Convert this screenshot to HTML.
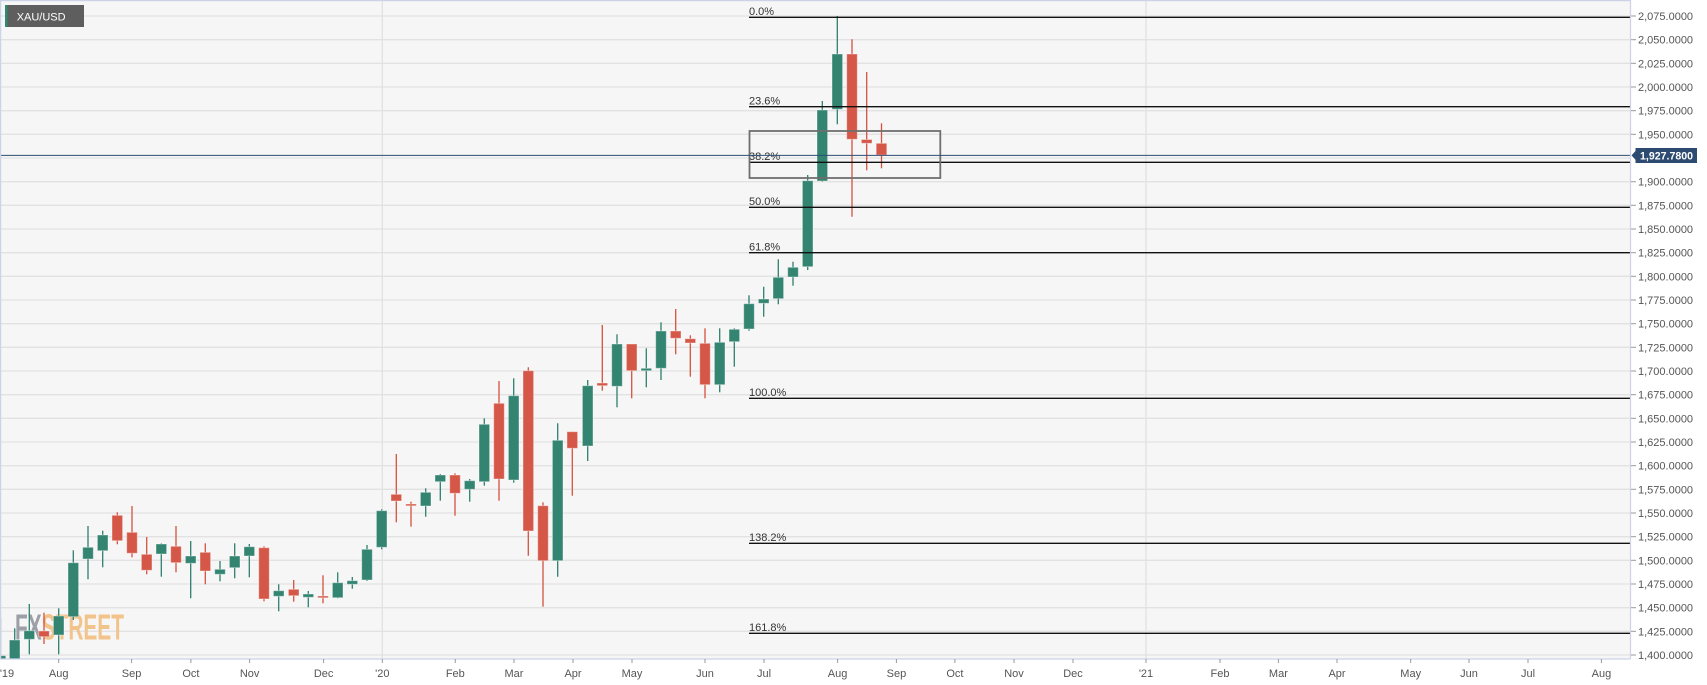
<!DOCTYPE html>
<html><head><meta charset="utf-8"><style>
html,body{margin:0;padding:0;background:#fff;}
svg{display:block;font-family:"Liberation Sans",Arial,sans-serif;}
</style></head><body>
<svg width="1707" height="685" viewBox="0 0 1707 685" xmlns="http://www.w3.org/2000/svg">
<defs><clipPath id="pa"><rect x="0" y="0" width="1630" height="659"/></clipPath></defs>
<rect x="0" y="0" width="1707" height="685" fill="#ffffff"/>
<rect x="0" y="0" width="1630" height="659" fill="#f6f6f6"/>
<!-- horizontal grid -->
<g stroke="#e2e2e2" stroke-width="1.3">
<line x1="0" x2="1630" y1="16" y2="16"/><line x1="0" x2="1630" y1="39.7" y2="39.7"/><line x1="0" x2="1630" y1="63.3" y2="63.3"/><line x1="0" x2="1630" y1="87" y2="87"/><line x1="0" x2="1630" y1="110.7" y2="110.7"/><line x1="0" x2="1630" y1="134.3" y2="134.3"/><line x1="0" x2="1630" y1="158" y2="158"/><line x1="0" x2="1630" y1="181.7" y2="181.7"/><line x1="0" x2="1630" y1="205.3" y2="205.3"/><line x1="0" x2="1630" y1="229" y2="229"/><line x1="0" x2="1630" y1="252.7" y2="252.7"/><line x1="0" x2="1630" y1="276.3" y2="276.3"/><line x1="0" x2="1630" y1="300" y2="300"/><line x1="0" x2="1630" y1="323.7" y2="323.7"/><line x1="0" x2="1630" y1="347.3" y2="347.3"/><line x1="0" x2="1630" y1="371" y2="371"/><line x1="0" x2="1630" y1="394.7" y2="394.7"/><line x1="0" x2="1630" y1="418.3" y2="418.3"/><line x1="0" x2="1630" y1="442" y2="442"/><line x1="0" x2="1630" y1="465.7" y2="465.7"/><line x1="0" x2="1630" y1="489.3" y2="489.3"/><line x1="0" x2="1630" y1="513" y2="513"/><line x1="0" x2="1630" y1="536.7" y2="536.7"/><line x1="0" x2="1630" y1="560.3" y2="560.3"/><line x1="0" x2="1630" y1="584" y2="584"/><line x1="0" x2="1630" y1="607.7" y2="607.7"/><line x1="0" x2="1630" y1="631.3" y2="631.3"/><line x1="0" x2="1630" y1="655" y2="655"/>
<line x1="382.3" x2="382.3" y1="0" y2="659"/><line x1="1146" x2="1146" y1="0" y2="659"/>
</g>
<!-- watermark -->
<text transform="translate(15,639.5) scale(0.58,1)" font-size="36" font-weight="bold"><tspan fill="#9c9fa7">FX</tspan><tspan fill="#f2c48c">STREET</tspan></text>
<!-- candles -->
<g clip-path="url(#pa)" stroke-width="1.3">
<g stroke="#2f7f6c">
<line x1="0.5" x2="0.5" y1="618" y2="660"/><line x1="14.7" x2="14.7" y1="628.3" y2="662"/><line x1="29.3" x2="29.3" y1="604" y2="654.3"/><line x1="58.7" x2="58.7" y1="608.3" y2="654.3"/><line x1="73.3" x2="73.3" y1="550.3" y2="620"/><line x1="88" x2="88" y1="526" y2="579.3"/><line x1="102.7" x2="102.7" y1="530.7" y2="567.3"/><line x1="161.3" x2="161.3" y1="543.3" y2="576.7"/><line x1="190.7" x2="190.7" y1="541" y2="598.3"/><line x1="220" x2="220" y1="561" y2="581.3"/><line x1="234.7" x2="234.7" y1="543.3" y2="578.3"/><line x1="249.3" x2="249.3" y1="544" y2="577.3"/><line x1="278.7" x2="278.7" y1="584.3" y2="611.3"/><line x1="308.3" x2="308.3" y1="591" y2="607.3"/><line x1="337.7" x2="337.7" y1="572.3" y2="598.3"/><line x1="352.3" x2="352.3" y1="577" y2="588.7"/><line x1="367" x2="367" y1="545" y2="581"/><line x1="381.7" x2="381.7" y1="509.3" y2="549.3"/><line x1="425.7" x2="425.7" y1="488.3" y2="516.7"/><line x1="440.3" x2="440.3" y1="474" y2="500.7"/><line x1="469.7" x2="469.7" y1="479" y2="501.7"/><line x1="484.3" x2="484.3" y1="418.3" y2="485.7"/><line x1="513.7" x2="513.7" y1="378.3" y2="482.7"/><line x1="557.7" x2="557.7" y1="423.3" y2="576.7"/><line x1="587.7" x2="587.7" y1="380" y2="461"/><line x1="617" x2="617" y1="334.3" y2="407.3"/><line x1="646.3" x2="646.3" y1="348.3" y2="387.3"/><line x1="661" x2="661" y1="322.3" y2="380"/><line x1="719.7" x2="719.7" y1="328.3" y2="392.3"/><line x1="734.3" x2="734.3" y1="328.3" y2="366.7"/><line x1="749" x2="749" y1="295.3" y2="330.7"/><line x1="763.7" x2="763.7" y1="286.7" y2="316.7"/><line x1="778.3" x2="778.3" y1="259.3" y2="304.3"/><line x1="793" x2="793" y1="261.7" y2="285.7"/><line x1="807.7" x2="807.7" y1="175" y2="270"/><line x1="822.3" x2="822.3" y1="101" y2="181.7"/><line x1="837.3" x2="837.3" y1="16" y2="124.3"/>
</g>
<g stroke="#d4523f">
<line x1="44" x2="44" y1="612.7" y2="644"/><line x1="117.3" x2="117.3" y1="512.3" y2="544.3"/><line x1="132" x2="132" y1="506" y2="557.3"/><line x1="146.7" x2="146.7" y1="537" y2="574.3"/><line x1="176" x2="176" y1="526" y2="572.3"/><line x1="205.3" x2="205.3" y1="543.3" y2="584.3"/><line x1="264" x2="264" y1="546.3" y2="601.3"/><line x1="293.7" x2="293.7" y1="580" y2="601.7"/><line x1="323" x2="323" y1="575.3" y2="603.3"/><line x1="396.3" x2="396.3" y1="454" y2="522.3"/><line x1="411" x2="411" y1="501.7" y2="526.7"/><line x1="455" x2="455" y1="473.3" y2="515.7"/><line x1="499" x2="499" y1="381" y2="500.7"/><line x1="528.3" x2="528.3" y1="367.3" y2="555.7"/><line x1="543" x2="543" y1="502.3" y2="606.7"/><line x1="572.3" x2="572.3" y1="431.7" y2="495.7"/><line x1="602.3" x2="602.3" y1="325" y2="390.7"/><line x1="631.7" x2="631.7" y1="344" y2="398.3"/><line x1="675.7" x2="675.7" y1="309" y2="354.3"/><line x1="690.3" x2="690.3" y1="335.3" y2="376.7"/><line x1="705" x2="705" y1="328.3" y2="398.3"/><line x1="852" x2="852" y1="39.3" y2="216.7"/><line x1="866.7" x2="866.7" y1="72" y2="170.3"/><line x1="881.5" x2="881.5" y1="123.3" y2="168.3"/>
</g>
<g fill="#338471" stroke="rgba(255,255,255,0.38)" stroke-width="1">
<rect x="-4.8" y="655.7" width="10.6" height="4.3"/><rect x="9.4" y="640" width="10.6" height="19.3"/><rect x="24" y="630.7" width="10.6" height="8.6"/><rect x="53.4" y="616" width="10.6" height="19"/><rect x="68" y="562.7" width="10.6" height="54"/><rect x="82.7" y="547.3" width="10.6" height="11.7"/><rect x="97.4" y="535" width="10.6" height="15.7"/><rect x="156" y="544" width="10.6" height="10"/><rect x="185.4" y="556" width="10.6" height="7.3"/><rect x="214.7" y="569.3" width="10.6" height="5"/><rect x="229.4" y="556" width="10.6" height="11.7"/><rect x="244" y="546.7" width="10.6" height="9.3"/><rect x="273.4" y="590.7" width="10.6" height="5.6"/><rect x="303" y="594" width="10.6" height="3.3"/><rect x="332.4" y="582.7" width="10.6" height="15"/><rect x="347" y="580.7" width="10.6" height="3.6"/><rect x="361.7" y="549.3" width="10.6" height="30.7"/><rect x="376.4" y="510.7" width="10.6" height="36.6"/><rect x="420.4" y="492.3" width="10.6" height="13.7"/><rect x="435" y="475" width="10.6" height="6.7"/><rect x="464.4" y="480.7" width="10.6" height="8.6"/><rect x="479" y="424.3" width="10.6" height="57.4"/><rect x="508.4" y="395.7" width="10.6" height="84.3"/><rect x="552.4" y="440.3" width="10.6" height="120.4"/><rect x="582.4" y="385.7" width="10.6" height="60.3"/><rect x="611.7" y="344" width="10.6" height="42.3"/><rect x="641" y="368.3" width="10.6" height="2.4"/><rect x="655.7" y="331" width="10.6" height="37.3"/><rect x="714.4" y="342.3" width="10.6" height="42.4"/><rect x="729" y="329.3" width="10.6" height="12.4"/><rect x="743.7" y="303.7" width="10.6" height="25.3"/><rect x="758.4" y="299" width="10.6" height="4.3"/><rect x="773" y="277.3" width="10.6" height="21.4"/><rect x="787.7" y="267.3" width="10.6" height="9.7"/><rect x="802.4" y="180.7" width="10.6" height="86"/><rect x="817" y="110" width="10.6" height="71"/><rect x="832" y="54" width="10.6" height="55.3"/>
</g>
<g fill="#d45748" stroke="rgba(255,255,255,0.38)" stroke-width="1">
<rect x="38.7" y="631" width="10.6" height="5.7"/><rect x="112" y="515.3" width="10.6" height="25.4"/><rect x="126.7" y="532.3" width="10.6" height="21"/><rect x="141.4" y="554.3" width="10.6" height="16"/><rect x="170.7" y="546.3" width="10.6" height="16.4"/><rect x="200" y="552.3" width="10.6" height="18.7"/><rect x="258.7" y="547.7" width="10.6" height="51.3"/><rect x="288.4" y="589.3" width="10.6" height="6.4"/><rect x="317.7" y="596" width="10.6" height="1.8"/><rect x="391" y="494.3" width="10.6" height="6.7"/><rect x="405.7" y="504" width="10.6" height="1.8"/><rect x="449.7" y="475" width="10.6" height="18.3"/><rect x="493.7" y="403.3" width="10.6" height="75.7"/><rect x="523" y="370.7" width="10.6" height="160.3"/><rect x="537.7" y="505.7" width="10.6" height="55"/><rect x="567" y="431.7" width="10.6" height="16.6"/><rect x="597" y="383" width="10.6" height="2.7"/><rect x="626.4" y="344" width="10.6" height="26.7"/><rect x="670.4" y="331" width="10.6" height="7.3"/><rect x="685" y="338.7" width="10.6" height="4.3"/><rect x="699.7" y="343.3" width="10.6" height="41.4"/><rect x="846.7" y="54" width="10.6" height="85.3"/><rect x="861.4" y="139.5" width="10.6" height="3.8"/><rect x="876.2" y="143.3" width="10.6" height="11.7"/>
</g>
</g>
<!-- fib lines -->
<g stroke="#111" stroke-width="1.3">
<line x1="749" x2="1630" y1="17.3" y2="17.3"/><line x1="749" x2="1630" y1="106.7" y2="106.7"/><line x1="749" x2="1630" y1="162.3" y2="162.3"/><line x1="749" x2="1630" y1="207.3" y2="207.3"/><line x1="749" x2="1630" y1="252.7" y2="252.7"/><line x1="749" x2="1630" y1="398.3" y2="398.3"/><line x1="749" x2="1630" y1="543.3" y2="543.3"/><line x1="749" x2="1630" y1="633.3" y2="633.3"/>
</g>
<g font-size="11" fill="#333">
<text x="749" y="15">0.0%</text><text x="749" y="104.5">23.6%</text><text x="749" y="160">38.2%</text><text x="749" y="205">50.0%</text><text x="749" y="250.5">61.8%</text><text x="749" y="396">100.0%</text><text x="749" y="541">138.2%</text><text x="749" y="631">161.8%</text>
</g>
<!-- box -->
<rect x="749.5" y="131" width="190.8" height="47" fill="none" stroke="#6f6f6f" stroke-width="1.8"/>
<!-- current price line -->
<line x1="0" x2="1630" y1="155.4" y2="155.4" stroke="#2f4d74" stroke-width="1"/>
<!-- frame -->
<g stroke="#ccd3e8" stroke-width="1.2" fill="none">
<line x1="0" x2="1630" y1="0.6" y2="0.6"/><line x1="0.6" x2="0.6" y1="0" y2="659"/><line x1="1630.5" x2="1630.5" y1="0" y2="659"/><line x1="0" x2="1630.5" y1="659" y2="659"/>
</g>
<!-- y axis ticks -->
<g stroke="#9a9a9a" stroke-width="1">
<line x1="1631" x2="1636" y1="16" y2="16"/><line x1="1631" x2="1636" y1="39.7" y2="39.7"/><line x1="1631" x2="1636" y1="63.3" y2="63.3"/><line x1="1631" x2="1636" y1="87" y2="87"/><line x1="1631" x2="1636" y1="110.7" y2="110.7"/><line x1="1631" x2="1636" y1="134.3" y2="134.3"/><line x1="1631" x2="1636" y1="181.7" y2="181.7"/><line x1="1631" x2="1636" y1="205.3" y2="205.3"/><line x1="1631" x2="1636" y1="229" y2="229"/><line x1="1631" x2="1636" y1="252.7" y2="252.7"/><line x1="1631" x2="1636" y1="276.3" y2="276.3"/><line x1="1631" x2="1636" y1="300" y2="300"/><line x1="1631" x2="1636" y1="323.7" y2="323.7"/><line x1="1631" x2="1636" y1="347.3" y2="347.3"/><line x1="1631" x2="1636" y1="371" y2="371"/><line x1="1631" x2="1636" y1="394.7" y2="394.7"/><line x1="1631" x2="1636" y1="418.3" y2="418.3"/><line x1="1631" x2="1636" y1="442" y2="442"/><line x1="1631" x2="1636" y1="465.7" y2="465.7"/><line x1="1631" x2="1636" y1="489.3" y2="489.3"/><line x1="1631" x2="1636" y1="513" y2="513"/><line x1="1631" x2="1636" y1="536.7" y2="536.7"/><line x1="1631" x2="1636" y1="560.3" y2="560.3"/><line x1="1631" x2="1636" y1="584" y2="584"/><line x1="1631" x2="1636" y1="607.7" y2="607.7"/><line x1="1631" x2="1636" y1="631.3" y2="631.3"/><line x1="1631" x2="1636" y1="655" y2="655"/>
</g>
<g font-size="11" fill="#555">
<text x="1638" y="20">2,075.0000</text><text x="1638" y="43.7">2,050.0000</text><text x="1638" y="67.3">2,025.0000</text><text x="1638" y="91">2,000.0000</text><text x="1638" y="114.7">1,975.0000</text><text x="1638" y="138.3">1,950.0000</text><text x="1638" y="185.7">1,900.0000</text><text x="1638" y="209.3">1,875.0000</text><text x="1638" y="233">1,850.0000</text><text x="1638" y="256.7">1,825.0000</text><text x="1638" y="280.3">1,800.0000</text><text x="1638" y="304">1,775.0000</text><text x="1638" y="327.7">1,750.0000</text><text x="1638" y="351.3">1,725.0000</text><text x="1638" y="375">1,700.0000</text><text x="1638" y="398.7">1,675.0000</text><text x="1638" y="422.3">1,650.0000</text><text x="1638" y="446">1,625.0000</text><text x="1638" y="469.7">1,600.0000</text><text x="1638" y="493.3">1,575.0000</text><text x="1638" y="517">1,550.0000</text><text x="1638" y="540.7">1,525.0000</text><text x="1638" y="564.3">1,500.0000</text><text x="1638" y="588">1,475.0000</text><text x="1638" y="611.7">1,450.0000</text><text x="1638" y="635.3">1,425.0000</text><text x="1638" y="659">1,400.0000</text>
</g>
<!-- price label -->
<path d="M1631.5 155.4 L1635.5 151 L1635.5 148 L1697 148 L1697 163 L1635.5 163 L1635.5 159.8 Z" fill="#2d4b70"/>
<text x="1666.5" y="159.6" font-size="10.6" font-weight="bold" fill="#fff" text-anchor="middle">1,927.7800</text>
<!-- x axis ticks -->
<g stroke="#9a9a9a" stroke-width="1">
<line x1="58.7" x2="58.7" y1="659" y2="663"/><line x1="131.6" x2="131.6" y1="659" y2="663"/><line x1="190.9" x2="190.9" y1="659" y2="663"/><line x1="249.6" x2="249.6" y1="659" y2="663"/><line x1="323.6" x2="323.6" y1="659" y2="663"/><line x1="382.3" x2="382.3" y1="659" y2="663"/><line x1="455.3" x2="455.3" y1="659" y2="663"/><line x1="514" x2="514" y1="659" y2="663"/><line x1="573" x2="573" y1="659" y2="663"/><line x1="632" x2="632" y1="659" y2="663"/><line x1="705" x2="705" y1="659" y2="663"/><line x1="764" x2="764" y1="659" y2="663"/><line x1="837.6" x2="837.6" y1="659" y2="663"/><line x1="896.4" x2="896.4" y1="659" y2="663"/><line x1="954.9" x2="954.9" y1="659" y2="663"/><line x1="1014" x2="1014" y1="659" y2="663"/><line x1="1073" x2="1073" y1="659" y2="663"/><line x1="1146" x2="1146" y1="659" y2="663"/><line x1="1220" x2="1220" y1="659" y2="663"/><line x1="1278.4" x2="1278.4" y1="659" y2="663"/><line x1="1337" x2="1337" y1="659" y2="663"/><line x1="1410.7" x2="1410.7" y1="659" y2="663"/><line x1="1469" x2="1469" y1="659" y2="663"/><line x1="1528" x2="1528" y1="659" y2="663"/><line x1="1601.4" x2="1601.4" y1="659" y2="663"/>
</g>
<g font-size="11" fill="#555" text-anchor="middle">
<text x="7" y="677">'19</text><text x="58.7" y="677">Aug</text><text x="131.6" y="677">Sep</text><text x="190.9" y="677">Oct</text><text x="249.6" y="677">Nov</text><text x="323.6" y="677">Dec</text><text x="382.3" y="677">'20</text><text x="455.3" y="677">Feb</text><text x="514" y="677">Mar</text><text x="573" y="677">Apr</text><text x="632" y="677">May</text><text x="705" y="677">Jun</text><text x="764" y="677">Jul</text><text x="837.6" y="677">Aug</text><text x="896.4" y="677">Sep</text><text x="954.9" y="677">Oct</text><text x="1014" y="677">Nov</text><text x="1073" y="677">Dec</text><text x="1146" y="677">'21</text><text x="1220" y="677">Feb</text><text x="1278.4" y="677">Mar</text><text x="1337" y="677">Apr</text><text x="1410.7" y="677">May</text><text x="1469" y="677">Jun</text><text x="1528" y="677">Jul</text><text x="1601.4" y="677">Aug</text>
</g>
<!-- symbol badge -->
<rect x="5" y="5" width="79" height="22" fill="#5e5e5e"/>
<rect x="5" y="5" width="2.4" height="22" fill="#2e8b70"/>
<text x="16.7" y="20.6" font-size="11" fill="#fff">XAU/USD</text>
</svg>
</body></html>
